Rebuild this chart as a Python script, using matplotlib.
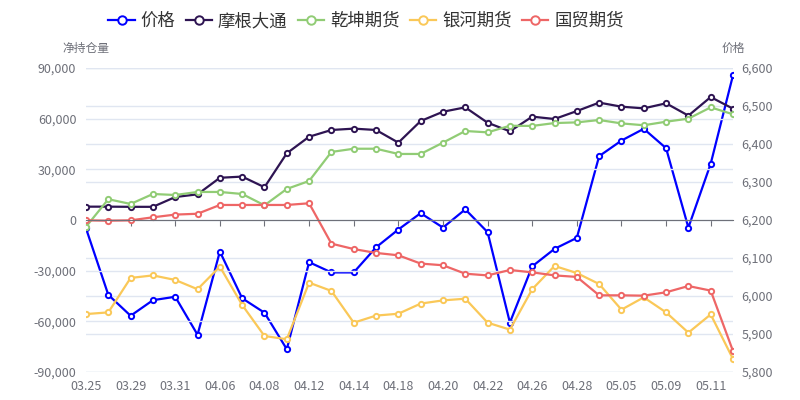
import matplotlib
matplotlib.use('Agg')
import matplotlib.pyplot as plt
from matplotlib.ticker import FuncFormatter

plt.rcParams['font.family'] = ['Noto Sans CJK SC', 'DejaVu Sans']

dates = ['03.25', '03.28', '03.29', '03.30', '03.31', '04.01', '04.06', '04.07',
         '04.08', '04.11', '04.12', '04.13', '04.14', '04.15', '04.18', '04.19',
         '04.20', '04.21', '04.22', '04.25', '04.26', '04.27', '04.28', '04.29',
         '05.05', '05.06', '05.09', '05.10', '05.11', '05.12']

price = [6178, 6003, 5948, 5989, 5998, 5898, 6117, 5994, 5956, 5860,
         6089, 6062, 6062, 6128, 6175, 6218, 6180, 6228, 6168, 5930,
         6078, 6124, 6153, 6368, 6409, 6440, 6389, 6180, 6348, 6581]
mgdt = [7900, 7900, 7800, 7800, 13600, 15200, 25000, 25700, 19400, 39500,
        49300, 53300, 54100, 53300, 45800, 58600, 64100, 66700, 57600, 52500,
        61200, 59800, 64500, 69500, 67100, 66100, 69100, 61800, 72800, 65900]
qk = [-4000, 12300, 9500, 15400, 14800, 16600, 16600, 15400, 8700, 18400,
      23100, 40300, 42200, 42200, 39100, 39100, 45800, 52700, 51900, 55800,
      55700, 57400, 57800, 59200, 57200, 56100, 58200, 60000, 66700, 62600]
yh = [-55700, -54700, -34300, -32800, -35500, -41000, -27600, -50300, -68700, -70600,
      -37100, -42000, -60800, -56600, -55500, -49500, -47600, -46600, -60800, -64900,
      -41000, -27200, -31400, -37900, -53100, -45800, -54700, -66700, -55900, -82300]
gm = [-200, -400, -200, 1600, 3200, 3700, 8900, 8900, 8900, 8900,
      9900, -14000, -17200, -19500, -20900, -25800, -26800, -31800, -32800, -29600,
      -31000, -32800, -33700, -44600, -44600, -44800, -42800, -39100, -41800, -77600]

series = [('摩根大通', mgdt, '#2e1452'),
          ('乾坤期货', qk, '#91cc75'),
          ('银河期货', yh, '#fac858'),
          ('国贸期货', gm, '#ee6666')]

gray = '#6e7079'
grid_c = '#e0e6f1'
x = list(range(len(dates)))

fig = plt.figure(figsize=(8, 4), dpi=100)
ax = fig.add_axes([86/800, 28/400, (733-86)/800, (372-68)/400])
ax2 = ax.twinx()
ax.set_zorder(ax2.get_zorder() + 1)
ax.patch.set_visible(False)

mk = dict(marker='o', markersize=3.8, markerfacecolor='white', markeredgewidth=1.4, linewidth=1.6)

handles = []
h, = ax2.plot(x, price, color='#0000ff', label='价格', **mk)
handles.append(h)
for name, vals, c in series:
    h, = ax.plot(x, vals, color=c, label=name, **mk)
    handles.append(h)

ax.set_xlim(0, len(dates) - 1)
ax.set_ylim(-90000, 90000)
ax.set_yticks(range(-90000, 90001, 30000))
ax.yaxis.set_major_formatter(FuncFormatter(lambda v, p: f'{int(v):,}'))
ax2.set_ylim(5800, 6600)
ax2.set_yticks(range(5800, 6601, 100))
ax2.yaxis.set_major_formatter(FuncFormatter(lambda v, p: f'{int(v):,}'))

ax.grid(axis='y', color=grid_c, linewidth=1)
ax2.grid(axis='y', color=grid_c, linewidth=1)
ax.set_axisbelow(True)
ax2.set_axisbelow(True)

for a in (ax, ax2):
    for s in ('top', 'left', 'right'):
        a.spines[s].set_visible(False)
ax2.spines['bottom'].set_visible(False)
ax.spines['bottom'].set_position(('data', 0))
ax.spines['bottom'].set_color(gray)

ax.set_xticks(x[::2])
ax.tick_params(axis='x', length=4, color=gray, labelbottom=False)
ax.tick_params(axis='y', length=0, labelsize=9, labelcolor=gray, pad=7)
ax2.tick_params(axis='y', length=0, labelsize=9, labelcolor=gray, pad=6)

sec = ax.secondary_xaxis('bottom')
sec.set_xticks(x[::2], [dates[i] for i in x[::2]])
sec.tick_params(length=0, labelsize=9, labelcolor=gray, pad=6)
sec.spines['bottom'].set_visible(False)

fig.text(86/800, 1 - 48/400, '净持仓量', ha='center', va='center', fontsize=8.5, color=gray)
fig.text(733/800, 1 - 48/400, '价格', ha='center', va='center', fontsize=8.5, color=gray)

fig.legend(handles=handles, loc='center', bbox_to_anchor=(366/800, 1 - 21/400), ncol=5,
           frameon=False, fontsize=12.5, handlelength=1.5, handletextpad=0.35,
           columnspacing=0.6, markerscale=1.6, labelcolor='#333333')

fig.savefig('out.png', dpi=100)
